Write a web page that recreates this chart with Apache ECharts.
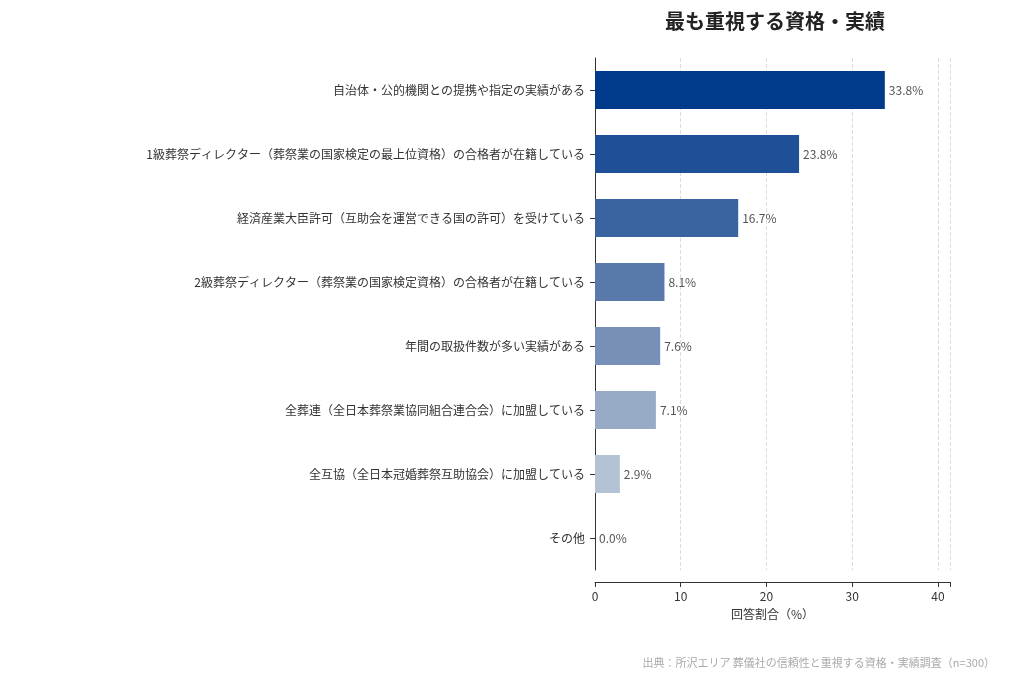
<!DOCTYPE html><html><head><meta charset="utf-8"><script src="https://cdn.jsdelivr.net/npm/echarts@6/dist/echarts.min.js"></script></head><body style="margin:0"><div id="c" style="width:1024px;height:683px"></div><script>
const categories=["自治体・公的機関との提携や指定の実績がある","1級葬祭ディレクター（葬祭業の国家検定の最上位資格）の合格者が在籍している","経済産業大臣許可（互助会を運営できる国の許可）を受けている","2級葬祭ディレクター（葬祭業の国家検定資格）の合格者が在籍している","年間の取扱件数が多い実績がある","全葬連（全日本葬祭業協同組合連合会）に加盟している","全互協（全日本冠婚葬祭互助協会）に加盟している","その他"];
const values=[33.8,23.8,16.7,8.1,7.6,7.1,2.9,0.0];
const colors=["#003a8a","#1f4f96","#3a64a0","#5979aa","#7890b8","#97abc6","#b4c3d4","#d0d8e2"];
const f='"Noto Sans CJK JP","Noto Sans",sans-serif';
const ch=echarts.init(document.getElementById('c'));
ch.setOption({textStyle:{fontFamily:f},
title:[{text:"最も重視する資格・実績",left:770,top:6,textAlign:'center',textStyle:{fontSize:20,fontWeight:'bold',color:'#222',fontFamily:f}},
{text:"出典：所沢エリア 葬儀社の信頼性と重視する資格・実績調査（n=300）",right:24,top:652,textStyle:{fontSize:11,fontWeight:'normal',color:'#aaa',fontFamily:f}}],
grid:{left:595,right:74,top:58,height:512},
xAxis:{type:'value',min:0,max:41.4,interval:10,offset:12,name:'回答割合（%）',nameLocation:'middle',nameGap:26,nameTextStyle:{color:'#333',fontSize:12},
axisLine:{show:true,lineStyle:{color:'#333'}},axisTick:{show:true,lineStyle:{color:'#333'}},
axisLabel:{color:'#333',fontSize:12,formatter:v=>v%10===0?v:''},
splitLine:{show:true,lineStyle:{type:'dashed',color:'#ddd'}}},
yAxis:{type:'category',inverse:true,data:categories,axisLine:{lineStyle:{color:'#333'}},axisTick:{show:true,alignWithLabel:true,lineStyle:{color:'#333'}},axisLabel:{color:'#333',fontSize:12,margin:10}},
series:[{type:'bar',barWidth:38,data:values.map((v,i)=>({value:v,itemStyle:{color:colors[i]}})),
label:{show:true,position:'right',distance:4,color:'#555',fontSize:12,formatter:p=>p.value.toFixed(1)+'%'}}]});
</script></body></html>
